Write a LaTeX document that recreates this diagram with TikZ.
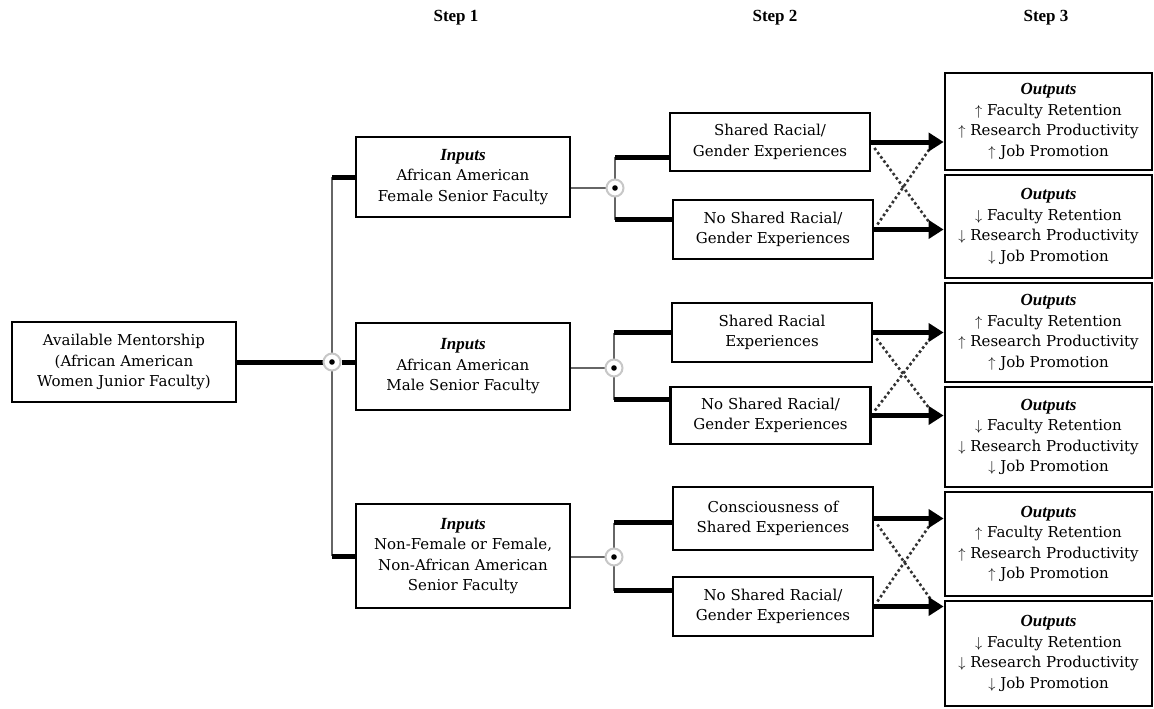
\documentclass[tikz,border=0pt]{standalone}
\usepackage{fontspec}
\setmainfont{DejaVu Serif}
\newfontfamily\stepfont{Liberation Serif}
\usetikzlibrary{arrows.meta,backgrounds}
\newcommand{\boxtitle}[1]{{\stepfont\bfseries\itshape\fontsize{17}{20}\selectfont #1}}

\begin{document}
\begin{tikzpicture}
[x=1pt,y=-1pt,
box/.style={draw=black,line width=2.8pt,fill=white,align=center,inner sep=2pt,font=\fontsize{15}{20.5}\selectfont},
inbox/.style={box,minimum width=214pt},
stepbox/.style={box,minimum width=200pt},
outbox/.style={box,minimum width=207pt},
junction/.style={circle,draw=black!22,line width=2pt,fill=white,minimum size=17pt,inner sep=0pt,path picture={\fill[black] (path picture bounding box.center) circle (2.8pt);}},
heavy/.style={line width=5pt},
light/.style={line width=1.6pt,draw=black!60},
arr/.style={line width=5pt,-{Triangle[length=15pt,width=18pt]}},
cross/.style={line width=2.6pt,draw=black!80,dash pattern=on 2.6pt off 2.6pt},
head/.style={font=\stepfont\bfseries\fontsize{17}{20}\selectfont}]
\useasboundingbox (0,0) rectangle (1154,709);

\node[head] (step1) at (456,18) {Step 1};
\node[head] (step2) at (775,18) {Step 2};
\node[head] (step3) at (1046,18) {Step 3};

\node[box,minimum width=224pt,minimum height=80pt] (mentor) at (124,362) {Available Mentorship\\(African American\\Women Junior Faculty)};

\node[inbox,minimum height=80pt] (inF) at (463,177) {\boxtitle{Inputs}\\African American\\Female Senior Faculty};
\node[inbox,minimum height=87pt] (inM) at (463,366.5) {\boxtitle{Inputs}\\African American\\Male Senior Faculty};
\node[inbox,minimum height=104pt] (inN) at (463,556) {\boxtitle{Inputs}\\Non-Female or Female,\\Non-African American\\Senior Faculty};

\node[junction] (d1) at (332,362) {};
\node[junction] (dF) at (615,188) {};
\node[junction] (dM) at (614,368) {};
\node[junction] (dN) at (614,557) {};

\node[stepbox,minimum height=58pt] (sF) at (770,142) {Shared Racial/\\Gender Experiences};
\node[stepbox,minimum height=59pt] (nF) at (773,229.5) {No Shared Racial/\\Gender Experiences};
\node[stepbox,minimum height=59pt] (sM) at (772,332.5) {Shared Racial\\Experiences};
\node[stepbox,minimum height=57pt] (nM) at (770.5,415.5) {No Shared Racial/\\Gender Experiences};
\node[stepbox,minimum height=63pt] (cN) at (773,518.5) {Consciousness of\\Shared Experiences};
\node[stepbox,minimum height=59pt] (nN) at (773,606.5) {No Shared Racial/\\Gender Experiences};

\node[outbox,minimum height=97pt] (o1) at (1048.5,121.5) {\boxtitle{Outputs}\\$\uparrow$ Faculty Retention\\$\uparrow$ Research Productivity\\$\uparrow$ Job Promotion};
\node[outbox,minimum height=103pt] (o2) at (1048.5,226.5) {\boxtitle{Outputs}\\$\downarrow$ Faculty Retention\\$\downarrow$ Research Productivity\\$\downarrow$ Job Promotion};
\node[outbox,minimum height=99pt] (o3) at (1048.5,332.5) {\boxtitle{Outputs}\\$\uparrow$ Faculty Retention\\$\uparrow$ Research Productivity\\$\uparrow$ Job Promotion};
\node[outbox,minimum height=100pt] (o4) at (1048.5,437) {\boxtitle{Outputs}\\$\downarrow$ Faculty Retention\\$\downarrow$ Research Productivity\\$\downarrow$ Job Promotion};
\node[outbox,minimum height=104pt] (o5) at (1048.5,544) {\boxtitle{Outputs}\\$\uparrow$ Faculty Retention\\$\uparrow$ Research Productivity\\$\uparrow$ Job Promotion};
\node[outbox,minimum height=105pt] (o6) at (1048.5,653.5) {\boxtitle{Outputs}\\$\downarrow$ Faculty Retention\\$\downarrow$ Research Productivity\\$\downarrow$ Job Promotion};

% stub ends and arrow tips
\coordinate (aF) at ([yshift=-15pt]sF.west);
\coordinate (bF) at ([yshift=10pt]nF.west);
\coordinate (aM) at (sM.west);
\coordinate (bM) at ([yshift=16pt]nM.west);
\coordinate (aN) at ([yshift=-4pt]cN.west);
\coordinate (bN) at ([yshift=16pt]nN.west);
\coordinate (tsF) at (sF.east -| o1.west);
\coordinate (tnF) at (nF.east -| o2.west);
\coordinate (tsM) at (sM.east -| o3.west);
\coordinate (tnM) at (nM.east -| o4.west);
\coordinate (tcN) at (cN.east -| o5.west);
\coordinate (tnN) at (nN.east -| o6.west);

\begin{scope}[on background layer]
\draw [light] (d1 |- inF.west) -- (d1 |- inN.west);
\draw [heavy] (mentor.east) -- (d1);
\draw [heavy] (d1 |- inF.west) -- (inF.west);
\draw [heavy] (d1) -- (d1 -| inM.west);
\draw [heavy] (d1 |- inN.west) -- (inN.west);

\draw [light] (inF.east |- dF) -- (dF);
\draw [light] (dF |- aF) -- (dF |- bF);
\draw [heavy] (dF |- aF) -- (aF);
\draw [heavy] (dF |- bF) -- (bF);
\draw [light] (inM.east |- dM) -- (dM);
\draw [light] (dM |- aM) -- (dM |- bM);
\draw [heavy] (dM |- aM) -- (aM);
\draw [heavy] (dM |- bM) -- (bM);
\draw [light] (inN.east |- dN) -- (dN);
\draw [light] (dN |- aN) -- (dN |- bN);
\draw [heavy] (dN |- aN) -- (aN);
\draw [heavy] (dN |- bN) -- (bN);

\draw [cross] ([xshift=3pt,yshift=-6pt]sF.east) -- ([xshift=-12pt,yshift=4pt]tnF);
\draw [cross] ([xshift=3pt,yshift=5pt]nF.east) -- ([xshift=-12pt,yshift=-4pt]tsF);
\draw [cross] ([xshift=3pt,yshift=-6pt]sM.east) -- ([xshift=-12pt,yshift=4pt]tnM);
\draw [cross] ([xshift=3pt,yshift=5pt]nM.east) -- ([xshift=-12pt,yshift=-4pt]tsM);
\draw [cross] ([xshift=3pt,yshift=-6pt]cN.east) -- ([xshift=-12pt,yshift=6pt]tnN);
\draw [cross] ([xshift=3pt,yshift=5pt]nN.east) -- ([xshift=-12pt,yshift=-4pt]tcN);
\end{scope}

\draw [arr] (sF.east) -- (tsF);
\draw [arr] (nF.east) -- (tnF);
\draw [arr] (sM.east) -- (tsM);
\draw [arr] (nM.east) -- (tnM);
\draw [arr] (cN.east) -- (tcN);
\draw [arr] (nN.east) -- (tnN);
\end{tikzpicture}
\end{document}
